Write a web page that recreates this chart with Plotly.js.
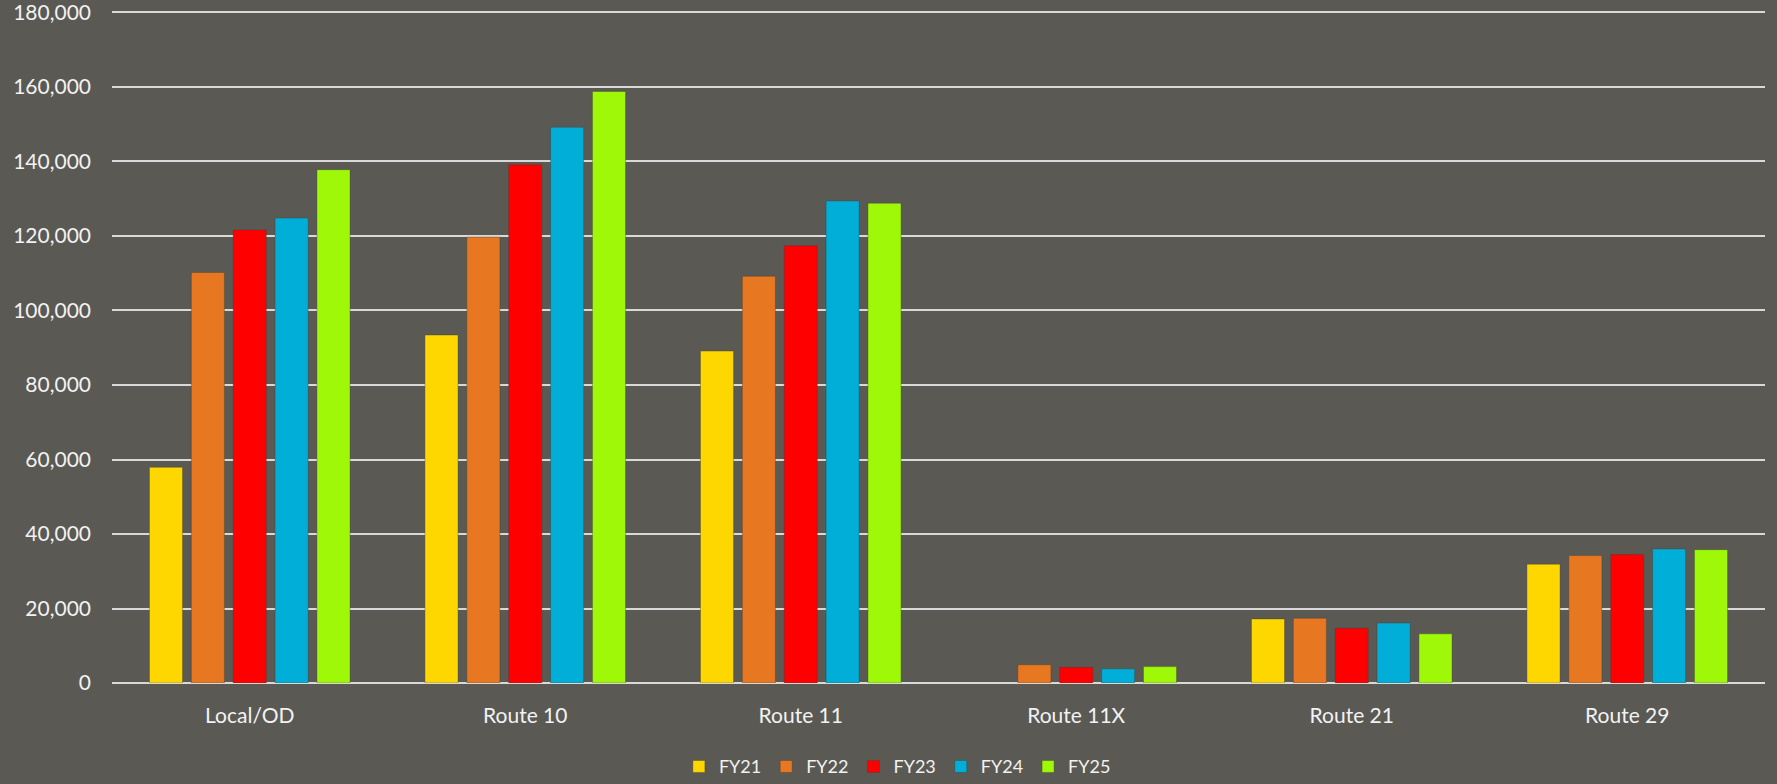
<!DOCTYPE html>
<html>
<head>
<meta charset="utf-8">
<script src="https://cdn.plot.ly/plotly-3.0.1.min.js"></script>
<style>
  html, body { margin: 0; padding: 0; background: #5a5954; }
  #chart { width: 1777px; height: 784px; }
</style>
</head>
<body>
<div id="chart"></div>
<script>
const categories = ["Local/OD", "Route 10", "Route 11", "Route 11X", "Route 21", "Route 29"];
const seriesNames = ["FY21", "FY22", "FY23", "FY24", "FY25"];
const fy21 = [57900, 93400, 89100, null, 17200, 31900];
const fy22 = [110200, 119700, 109200, 4900, 17400, 34200];
const fy23 = [121600, 139100, 117400, 4200, 14700, 34500];
const fy24 = [124800, 149200, 129400, 3800, 16100, 36000];
const fy25 = [137800, 158800, 128800, 4400, 13200, 35800];
const seriesColors = ["#FFD700", "#E87722", "#FF0000", "#00AED8", "#9EF808"];
const yTickVals = [0, 20000, 40000, 60000, 80000, 100000, 120000, 140000, 160000, 180000];

const allValues = [fy21, fy22, fy23, fy24, fy25];
const traces = allValues.map((vals, i) => ({
  type: "bar",
  name: seriesNames[i],
  x: categories,
  y: vals,
  marker: { color: seriesColors[i], line: { color: "rgba(60,60,50,0.35)", width: 1 } },
  hoverinfo: "x+y+name"
}));

const fontFam = "Lato, 'Open Sans', sans-serif";
const layout = {
  width: 1777,
  height: 784,
  paper_bgcolor: "#5a5954",
  plot_bgcolor: "#5a5954",
  margin: { l: 112, r: 12, t: 11, b: 101 },
  barmode: "group",
  bargap: 0.24,
  bargroupgap: 0.21,
  font: { family: fontFam, color: "#f2f2f2", size: 21 },
  xaxis: {
    type: "category",
    showgrid: false,
    showline: false,
    ticks: "",
    ticklabelstandoff: 18,
    tickfont: { family: fontFam, size: 21, color: "#f2f2f2" }
  },
  yaxis: {
    range: [0, 180400],
    tickmode: "array",
    tickvals: yTickVals,
    tickformat: ",",
    ticklabeloverflow: "allow",
    showgrid: true,
    gridcolor: "#d9d9d9",
    gridwidth: 2,
    zeroline: true,
    zerolinecolor: "#d9d9d9",
    zerolinewidth: 2,
    showline: false,
    ticks: "",
    ticklabelstandoff: 20,
    tickfont: { family: fontFam, size: 21, color: "#f2f2f2" }
  },
  legend: {
    orientation: "h",
    xref: "container",
    yref: "container",
    x: 0.505,
    xanchor: "center",
    y: 0.022,
    yanchor: "middle",
    font: { family: fontFam, size: 18, color: "#f2f2f2" },
    itemwidth: 30,
    bgcolor: "rgba(0,0,0,0)"
  },
  showlegend: true
};

Plotly.newPlot("chart", traces, layout, { displayModeBar: false, staticPlot: true });
</script>
</body>
</html>
